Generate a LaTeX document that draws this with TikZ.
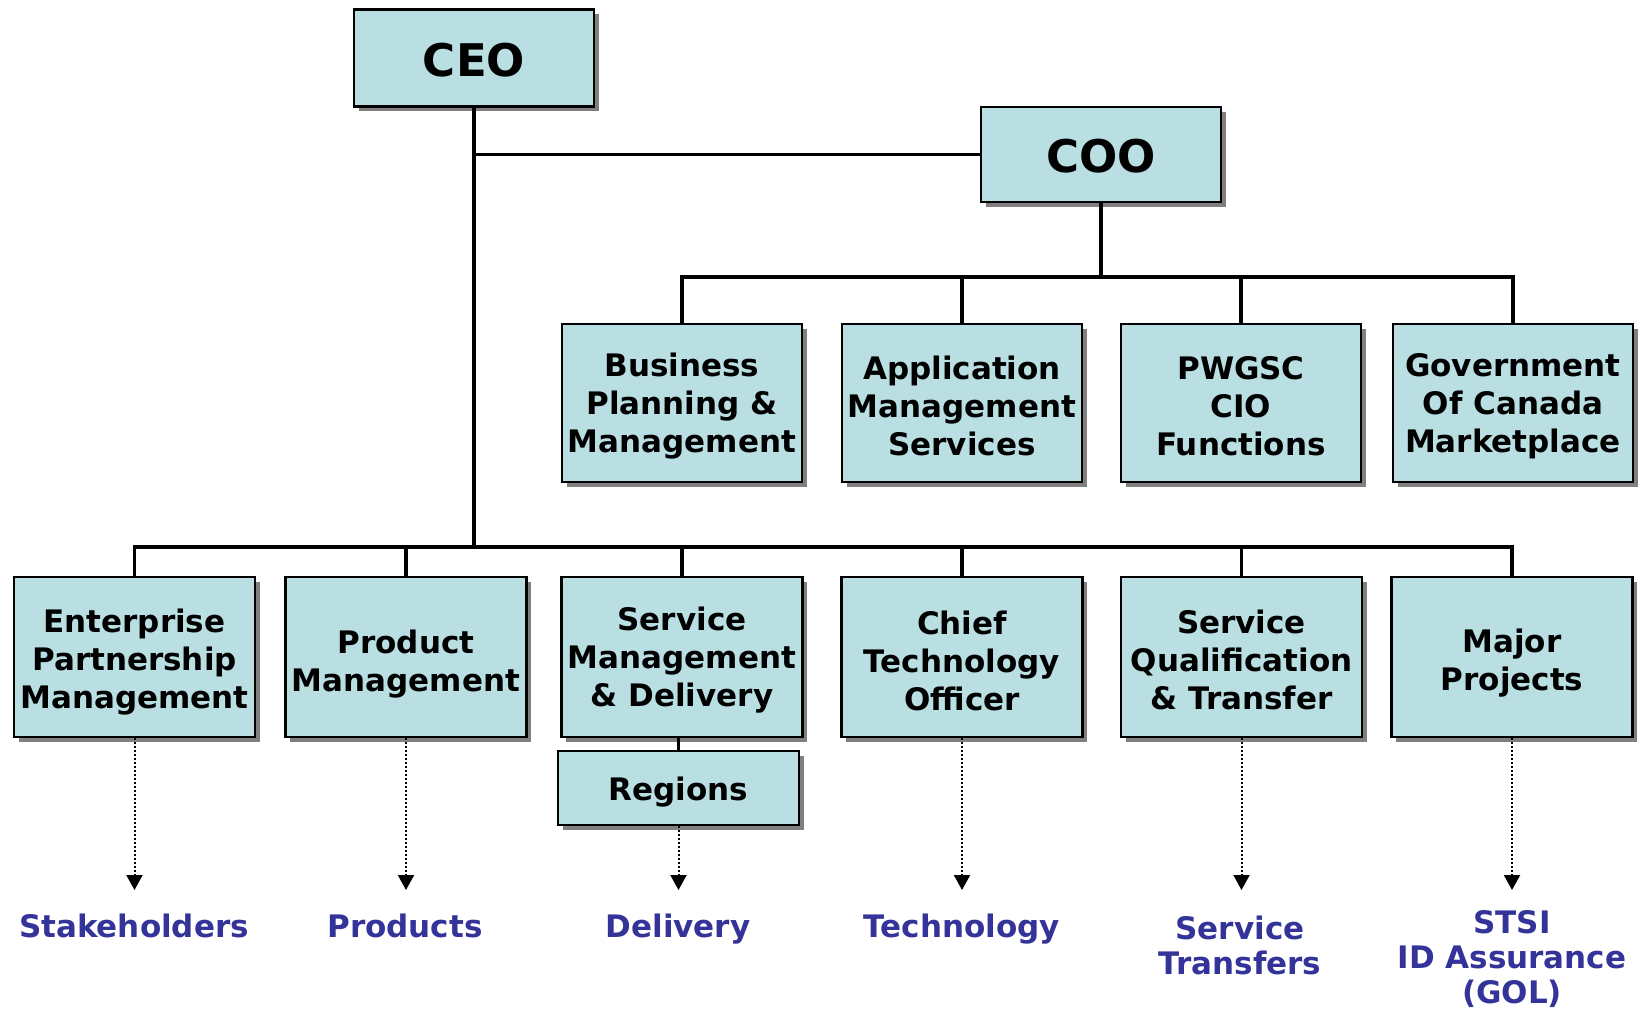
\documentclass[tikz,border=0pt]{standalone}
\usepackage{fontspec}
\setmainfont{DejaVu Sans}
\usetikzlibrary{arrows.meta,shadows}
\definecolor{boxfill}{RGB}{185,223,227}
\definecolor{lblblue}{RGB}{51,51,153}
\begin{document}
\begin{tikzpicture}[x=1pt,y=-1pt,
  orgbox/.style={draw=black,line width=2.2pt,fill=boxfill,align=center,inner sep=0pt,
    font=\fontsize{31}{38}\selectfont\bfseries,
    drop shadow={shadow xshift=4.5pt,shadow yshift=-4.5pt,fill=black!50,opacity=1}},
  boxtext/.style={align=center,inner sep=0pt,font=\fontsize{31}{38}\selectfont\bfseries},
  bigtext/.style={align=center,inner sep=0pt,font=\fontsize{45}{50}\selectfont\bfseries},
  conn/.style={line width=3.6pt},
  dotarrow/.style={line width=2pt,dash pattern=on 2pt off 2pt,-{Triangle[length=15pt,width=16pt]}},
  lbl/.style={text=lblblue,align=center,font=\fontsize{31}{35}\selectfont\bfseries,inner sep=0pt}]
\useasboundingbox (0,0) rectangle (1642,1010);
% top
\node[orgbox,minimum width=240pt,minimum height=97pt] (ceo) at (474,58) {};
\node[bigtext] (ceot) at ([yshift=-2pt]ceo.center) {CEO};
\node[orgbox,minimum width=240pt,minimum height=95pt] (coo) at (1101,154.5) {};
\node[bigtext] (coot) at ([yshift=-2pt]coo.center) {COO};
% row 2
\foreach \n/\x/\t in {bp/682/{Business\\Planning \&\\Management},
                      am/962/{Application\\Management\\Services},
                      pw/1241/{PWGSC\\CIO\\Functions},
                      gc/1513/{Government\\Of Canada\\Marketplace}}
  {\node[orgbox,minimum width=240pt,minimum height=158pt] (\n) at (\x,403) {};
   \node[boxtext] (\n t) at ([yshift=-3pt]\n.center) {\t};}
% row 3
\foreach \n/\x/\s/\t in {ep/134.5/5/{Enterprise\\Partnership\\Management},
                      pm/406/7/{Product\\Management},
                      sm/682/3.5/{Service\\Management\\\& Delivery},
                      ct/962/3.5/{Chief\\Technology\\Officer},
                      sq/1241.5/3/{Service\\Qualification\\\& Transfer},
                      mp/1512/6/{Major\\Projects}}
  {\node[orgbox,minimum width=241pt,minimum height=160pt] (\n) at (\x,657) {};
   \node[boxtext] (\n t) at ([yshift=-\s pt]\n.center) {\t};}
\node[orgbox,minimum width=241pt,minimum height=74pt] (rg) at (678.5,788) {};
\node[boxtext] (rgt) at ([yshift=-4pt]rg.center) {Regions};
% labels
\node[lbl] (l1) at (134,926) {Stakeholders};
\node[lbl] (l2) at (405,926) {Products};
\node[lbl] (l3) at (678,929) {Delivery};
\node[lbl] (l4) at (962,929) {Technology};
\node[lbl] (l5) at (1240,945) {Service\\Transfers};
\node[lbl] (l6) at (1512,959) {STSI\\ID Assurance\\(GOL)};
% connectors
\coordinate (b2) at (1101,277);
\coordinate (b3) at (474,547);
\coordinate (tip) at (0,890);
\draw[conn] (ceo.south |- coo.west) -- (coo.west);
\draw[conn] (coo.south) -- (b2);
\draw[conn] (bp.north) -- (bp.north |- b2) -- (gc.north |- b2) -- (gc.north);
\draw[conn] (am.north) -- (am.north |- b2);
\draw[conn] (pw.north) -- (pw.north |- b2);
\draw[conn] (ceo.south) -- (b3);
\draw[conn] (ep.north) -- (ep.north |- b3) -- (mp.north |- b3) -- (mp.north);
\draw[conn] (pm.north) -- (pm.north |- b3);
\draw[conn] (sm.north) -- (sm.north |- b3);
\draw[conn] (ct.north) -- (ct.north |- b3);
\draw[conn] (sq.north) -- (sq.north |- b3);
\draw[conn] (sm.south -| rg.north) -- (rg.north);
\draw[dotarrow] (ep.south) -- (ep.south |- tip);
\draw[dotarrow] (pm.south) -- (pm.south |- tip);
\draw[dotarrow] (rg.south) -- (rg.south |- tip);
\draw[dotarrow] (ct.south) -- (ct.south |- tip);
\draw[dotarrow] (sq.south) -- (sq.south |- tip);
\draw[dotarrow] (mp.south) -- (mp.south |- tip);
\end{tikzpicture}
\end{document}
